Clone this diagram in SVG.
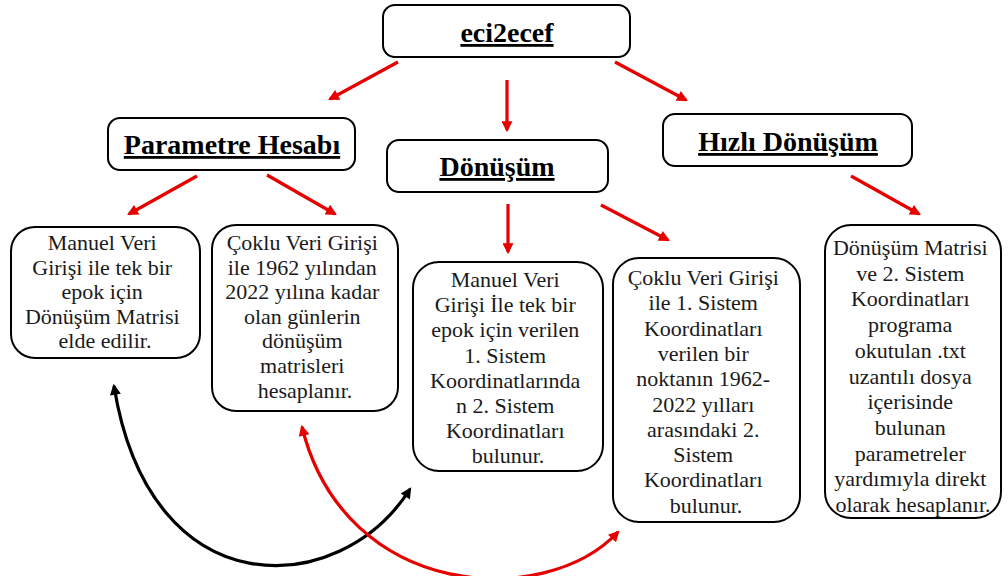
<svg xmlns="http://www.w3.org/2000/svg" width="1008" height="576" viewBox="0 0 1008 576">
  <style>
    .box { fill: #ffffff; stroke: #000000; stroke-width: 2; }
    .title { font-family: "Liberation Serif", serif; font-weight: bold; font-size: 28px; text-anchor: middle; text-decoration: underline; fill: #000000; }
    .body { font-family: "Liberation Serif", serif; font-size: 22px; text-anchor: middle; fill: #1a1a1a; }
    .red { stroke: #e60000; stroke-width: 3.2; fill: none; }
    .blk { stroke: #000000; stroke-width: 3.2; fill: none; }
  </style>
  <defs>
    <marker id="ahRed" viewBox="0 0 10 10" refX="8" refY="5" markerWidth="13" markerHeight="11" markerUnits="userSpaceOnUse" orient="auto-start-reverse">
      <path d="M0,0 L10,5 L0,10 z" fill="#e60000"/>
    </marker>
    <marker id="ahBlk" viewBox="0 0 10 10" refX="8" refY="5" markerWidth="13" markerHeight="11" markerUnits="userSpaceOnUse" orient="auto-start-reverse">
      <path d="M0,0 L10,5 L0,10 z" fill="#000000"/>
    </marker>
  </defs>

  <rect width="1008" height="576" fill="#ffffff"/>

  <!-- connectors -->
  <g id="connectors">
    <line class="red" x1="398" y1="62" x2="330" y2="99" marker-end="url(#ahRed)"/>
    <line class="red" x1="507" y1="80" x2="507" y2="130" marker-end="url(#ahRed)"/>
    <line class="red" x1="615" y1="62" x2="686" y2="100" marker-end="url(#ahRed)"/>
    <line class="red" x1="197" y1="176" x2="129" y2="214" marker-end="url(#ahRed)"/>
    <line class="red" x1="267" y1="175" x2="335" y2="214" marker-end="url(#ahRed)"/>
    <line class="red" x1="508" y1="204" x2="508" y2="252" marker-end="url(#ahRed)"/>
    <line class="red" x1="601" y1="205" x2="668" y2="240" marker-end="url(#ahRed)"/>
    <line class="red" x1="851" y1="176" x2="919" y2="214" marker-end="url(#ahRed)"/>
    <!-- curved links between the bottom boxes -->
    <path class="blk" d="M114,386 C150,610 340,600 410,489" marker-start="url(#ahBlk)" marker-end="url(#ahBlk)"/>
    <path class="red" d="M302,427 C345,600 545,610 618,532" marker-start="url(#ahRed)" marker-end="url(#ahRed)"/>
  </g>

  <!-- top level -->
  <g id="node-eci2ecef">
    <rect class="box" x="383" y="5" width="247" height="52" rx="12"/>
    <text class="title" x="507" y="42" font-size="29">eci2ecef</text>
  </g>

  <!-- second level -->
  <g id="node-parametre">
    <rect class="box" x="108" y="118" width="247" height="52" rx="12"/>
    <text class="title" x="232" y="154">Parametre Hesabı</text>
  </g>
  <g id="node-donusum">
    <rect class="box" x="387" y="140" width="221" height="52" rx="12"/>
    <text class="title" x="497" y="176">Dönüşüm</text>
  </g>
  <g id="node-hizli">
    <rect class="box" x="663" y="114" width="249" height="52" rx="12"/>
    <text class="title" x="788" y="151">Hızlı Dönüşüm</text>
  </g>

  <!-- third level -->
  <g id="node-manuel-parametre">
    <rect class="box" x="11" y="227" width="189" height="131" rx="24"/>
    <text class="body" x="105" y="250">
      <tspan x="105" dy="0">Manuel Veri</tspan>
      <tspan x="105" dy="24.6">Girişi  ile tek bir</tspan>
      <tspan x="105" dy="24.6">epok için</tspan>
      <tspan x="105" dy="24.6">Dönüşüm Matrisi</tspan>
      <tspan x="105" dy="24.6">elde edilir.</tspan>
    </text>
  </g>
  <g id="node-coklu-parametre">
    <rect class="box" x="212" y="225" width="186" height="186" rx="24"/>
    <text class="body" x="305" y="250">
      <tspan x="305" dy="0">Çoklu Veri Girişi</tspan>
      <tspan x="305" dy="24.6">ile 1962 yılından</tspan>
      <tspan x="305" dy="24.6">2022 yılına kadar</tspan>
      <tspan x="305" dy="24.6">olan günlerin</tspan>
      <tspan x="305" dy="24.6">dönüşüm</tspan>
      <tspan x="305" dy="24.6">matrisleri</tspan>
      <tspan x="305" dy="24.6">hesaplanır.</tspan>
    </text>
  </g>
  <g id="node-manuel-donusum">
    <rect class="box" x="413" y="262" width="190" height="209" rx="26"/>
    <text class="body" x="508" y="287">
      <tspan x="508" dy="0">Manuel Veri</tspan>
      <tspan x="508" dy="25.2">Girişi  İle tek bir</tspan>
      <tspan x="508" dy="25.2">epok için verilen</tspan>
      <tspan x="508" dy="25.2">1. Sistem</tspan>
      <tspan x="508" dy="25.2">Koordinatlarında</tspan>
      <tspan x="508" dy="25.2">n 2. Sistem</tspan>
      <tspan x="508" dy="25.2">Koordinatları</tspan>
      <tspan x="508" dy="25.2">bulunur.</tspan>
    </text>
  </g>
  <g id="node-coklu-donusum">
    <rect class="box" x="613" y="258" width="187" height="264" rx="26"/>
    <text class="body" x="706" y="285">
      <tspan x="706" dy="0">Çoklu Veri Girişi</tspan>
      <tspan x="706" dy="25.3">ile 1. Sistem</tspan>
      <tspan x="706" dy="25.3">Koordinatları</tspan>
      <tspan x="706" dy="25.3">verilen bir</tspan>
      <tspan x="706" dy="25.3">noktanın 1962-</tspan>
      <tspan x="706" dy="25.3">2022 yılları</tspan>
      <tspan x="706" dy="25.3">arasındaki 2.</tspan>
      <tspan x="706" dy="25.3">Sistem</tspan>
      <tspan x="706" dy="25.3">Koordinatları</tspan>
      <tspan x="706" dy="25.3">bulunur.</tspan>
    </text>
  </g>
  <g id="node-hizli-detay">
    <rect class="box" x="825" y="225" width="176" height="293" rx="26"/>
    <text class="body" x="913" y="255" font-size="21">
      <tspan x="913" dy="0">Dönüşüm Matrisi</tspan>
      <tspan x="913" dy="25.7">ve 2. Sistem</tspan>
      <tspan x="913" dy="25.7">Koordinatları</tspan>
      <tspan x="913" dy="25.7">programa</tspan>
      <tspan x="913" dy="25.7">okutulan .txt</tspan>
      <tspan x="913" dy="25.7">uzantılı dosya</tspan>
      <tspan x="913" dy="25.7">içerisinde</tspan>
      <tspan x="913" dy="25.7">bulunan</tspan>
      <tspan x="913" dy="25.7">parametreler</tspan>
      <tspan x="913" dy="25.7">yardımıyla direkt</tspan>
      <tspan x="913" dy="25.7">olarak hesaplanır.</tspan>
    </text>
  </g>
</svg>
